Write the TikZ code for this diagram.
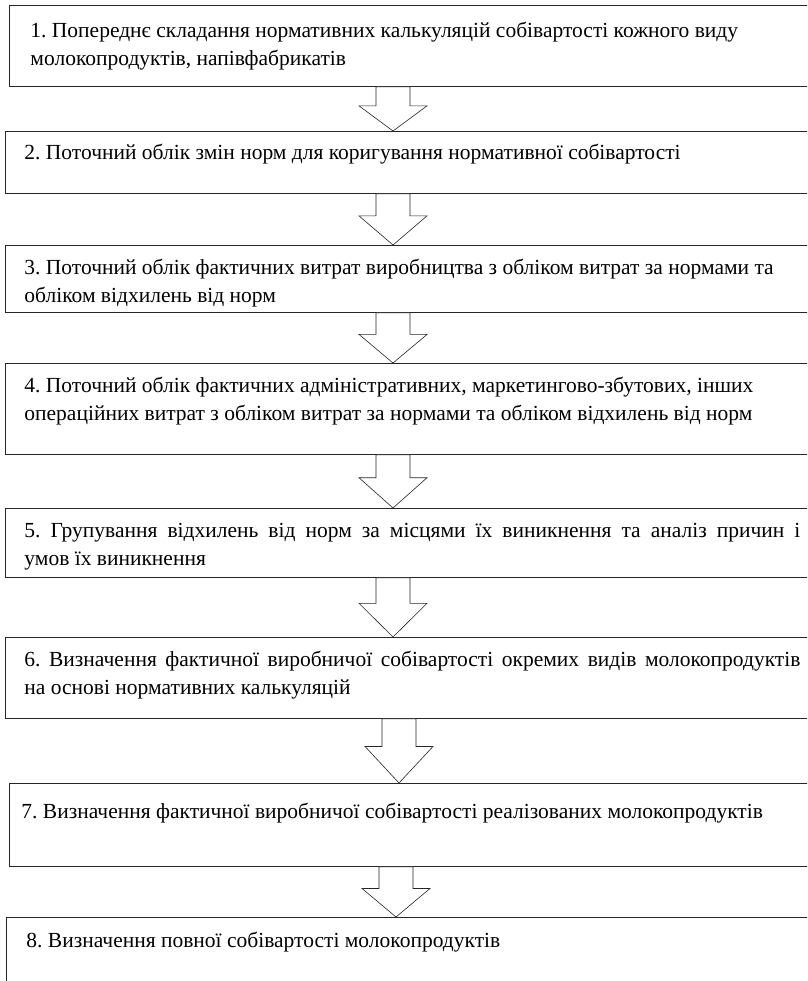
\documentclass[tikz,border=0pt]{standalone}
\usepackage{fontspec}
\setmainfont{Liberation Serif}
\usetikzlibrary{calc}

% block arrow between two stages, #3 = x of its axis
\newcommand{\flowstep}[3]{%
  \draw[flowArrow] let \p1=(#1.south), \p2=(#2.north), \n1={\y1+0.43*(\y2-\y1)} in
    (#3pt-17pt,\y1) -- (#3pt+17pt,\y1) -- (#3pt+17pt,\n1) -- (#3pt+34pt,\n1)
    -- (#3pt,\y2) -- (#3pt-34pt,\n1) -- (#3pt-17pt,\n1) -- cycle;}
% first line spread over the full width
\newcommand{\spreadline}[1]{\leavevmode\hbox to 776pt{\spaceskip=0pt\relax #1}}

\begin{document}
\begin{tikzpicture}[
    x=1pt, y=-1pt,
    font=\fontsize{21.5}{28}\selectfont\frenchspacing,
    stage/.style 2 args={
        rectangle, draw=black!85, line width=0.9pt, anchor=north west,
        text width=800pt, align=flush left, inner xsep=19pt, inner ysep=14pt,
        text height=#1, text depth=#2
    },
    flowArrow/.style={draw=black!85, line width=0.6pt, fill=white}
]
\useasboundingbox (0,0) rectangle (807,981);
\clip (0,0) rectangle (807,981);

% stages
\node[stage={18pt}{35pt}, inner xsep=21pt] (s1) at (9,5) {1. Попереднє складання нормативних калькуляцій собівартості кожного виду\\ молокопродуктів, напівфабрикатів};
\node[stage={14pt}{20pt}] (s2) at (5,131) {2. Поточний облік змін норм для коригування нормативної собівартості};
\node[stage={15pt}{24pt}] (s3) at (5,245) {3. Поточний облік фактичних витрат виробництва з обліком витрат за нормами та\\ обліком відхилень від норм};
\node[stage={15pt}{48pt}] (s4) at (5,363) {4. Поточний облік фактичних адміністративних, маркетингово-збутових, інших\\ операційних витрат з обліком витрат за нормами та обліком відхилень від норм};
\node[stage={15pt}{26pt}] (s5) at (5,508) {\spreadline{5. Групування відхилень від норм за місцями їх виникнення та аналіз причин і}\\ умов їх виникнення};
\node[stage={15pt}{38pt}] (s6) at (5,637) {\spreadline{6. Визначення фактичної виробничої собівартості окремих видів молокопродуктів}\\ на основі нормативних калькуляцій};
\node[stage={21pt}{34pt}, inner xsep=12pt] (s7) at (9,783) {7. Визначення фактичної виробничої собівартості реалізованих молокопродуктів};
\node[stage={16pt}{56pt}, inner xsep=20pt] (s8) at (6,917) {8. Визначення повної собівартості молокопродуктів};

% arrows
\flowstep{s1}{s2}{393}
\flowstep{s2}{s3}{393}
\flowstep{s3}{s4}{393}
\flowstep{s4}{s5}{393}
\flowstep{s5}{s6}{393}
\flowstep{s6}{s7}{399}
\flowstep{s7}{s8}{396}

\end{tikzpicture}
\end{document}
